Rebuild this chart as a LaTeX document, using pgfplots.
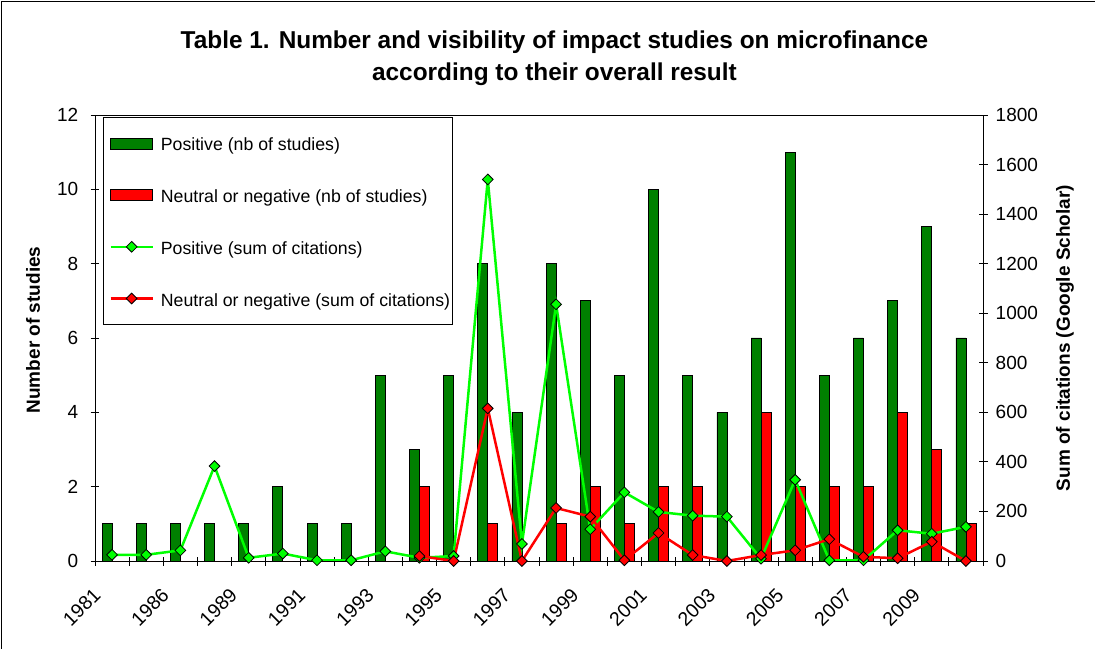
\documentclass[border=0pt]{standalone}
\usepackage{pgfplots}
\pgfplotsset{compat=1.18}
\usepackage{pgfplotstable}
\usepackage{fontspec}
\setmainfont{Liberation Sans}
\definecolor{barGreen}{RGB}{0,128,0}
\definecolor{barRed}{RGB}{255,0,0}
\definecolor{lineGreen}{RGB}{0,255,0}
\definecolor{lineRed}{RGB}{255,0,0}
\pgfplotsset{
  mylinelegend/.style={legend image code/.code={
     \path (0pt,0pt);
     \draw[mark repeat=2,mark phase=2,##1] plot coordinates {(4pt,0pt) (25pt,0pt) (46pt,0pt)};}},
  mybarlegend/.style={legend image code/.code={
     \path (0pt,0pt);
     \draw[##1] (4pt,-5.5pt) rectangle (46pt,5.5pt);}},
}
\pgfplotstableread{
x  pos neg cpos cneg
0  1   0   25   nan
1  1   0   25   nan
2  1   0   43   nan
3  1   0   383  nan
4  1   0   13   nan
5  2   0   30   nan
6  1   0   3    nan
7  1   0   3    nan
8  5   0   39   nan
9  3   2   13   20
10 5   0   20   0
11 8   1   1540 616
12 4   0   69   0
13 8   1   1036 214
14 7   2   128  179
15 5   1   277  3
16 10  2   198  113
17 5   2   183  24
18 4   0   179  0
19 6   4   9    24
20 11  2   328  43
21 5   2   3    88
22 6   2   3    17
23 7   4   124  11
24 9   3   110  78
25 6   1   138  0
}\datatable
\begin{document}
\begin{tikzpicture}
\useasboundingbox (0,0) rectangle (1095pt,648pt);
\begin{axis}[
  at={(95pt,87pt)}, anchor=south west,
  scale only axis, width=888pt, height=446pt,
  xmin=-0.5, xmax=25.5, ymin=0, ymax=12,
  ybar=0pt, bar width=10pt,
  ytick={0,2,...,12},
  xtick={0,2,...,24},
  xticklabels={1981,1986,1989,1991,1993,1995,1997,1999,2001,2003,2005,2007,2009},
  minor xtick={-0.5,0.5,...,25.5},
  major x tick style={draw=none},
  tick align=center, major tick length=9pt, minor tick length=9pt,
  xtick pos=lower, ytick pos=lower,
  tick style={black, line width=0.8pt},
  axis line style={black, line width=0.8pt},
  /pgf/number format/assume math mode=true,
  tick label style={font=\fontsize{19}{19}\selectfont},
  yticklabel style={inner sep=0pt, anchor=east, xshift=-12pt},
  xticklabel style={font=\fontsize{19.5}{19.5}\selectfont, inner sep=0pt, xshift=-20pt, yshift=-21pt, rotate=45, anchor=north east},
  ylabel={Number of studies},
  ylabel style={font=\bfseries\fontsize{19}{19}\selectfont, at={(axis description cs:-0.0698,0.518)}, anchor=center},
  title={Table 1. Number and visibility of impact studies on microfinance\\according to their overall result},
  title style={font=\bfseries\fontsize{24.4}{32}\selectfont, align=center, inner sep=0pt, at={(axis description cs:0.5174,1.1144)}, anchor=center},
]
\addplot[fill=barGreen, draw=black, line width=0.7pt] table[x=x, y=pos]{\datatable};
\addplot[fill=barRed, draw=black, line width=0.7pt] table[x=x, y=neg]{\datatable};
\end{axis}
\begin{axis}[
  at={(95pt,87pt)}, anchor=south west,
  scale only axis, width=888pt, height=446pt,
  xmin=-0.5, xmax=25.5, ymin=0, ymax=1800,
  axis x line=none, axis y line*=right,
  ytick={0,200,...,1800},
  tick align=center, major tick length=9pt,
  tick style={black, line width=0.8pt},
  axis line style={black, line width=0.8pt},
  /pgf/number format/assume math mode=true,
  /pgf/number format/1000 sep={},
  tick label style={font=\fontsize{19}{19}\selectfont},
  yticklabel style={inner sep=0pt, anchor=west, xshift=8pt},
  ylabel={Sum of citations (Google Scholar)},
  ylabel style={font=\bfseries\fontsize{19}{19}\selectfont, at={(axis description cs:1.0923,0.5)}, anchor=center},
  unbounded coords=jump,
  legend cell align=left,
  legend style={at={(axis description cs:0.009,0.9955)}, anchor=north west,
    draw=black, line width=0.8pt, font=\fontsize{17.7}{17.7}\selectfont,
    inner xsep=2pt, inner ysep=16pt, row sep=31.7pt,
    nodes={inner sep=0pt, text height=17.5pt, text depth=2.5pt},
    /tikz/every odd column/.append style={column sep=7pt}},
]
\addlegendimage{mybarlegend, fill=barGreen, draw=black, line width=0.7pt}
\addlegendentry{Positive (nb of studies)}
\addlegendimage{mybarlegend, fill=barRed, draw=black, line width=0.7pt}
\addlegendentry{Neutral or negative (nb of studies)}
\addplot[mylinelegend, lineGreen, line width=2.5pt, mark=square*, mark size=3.8pt,
  mark options={rotate=45, fill=lineGreen, draw=black, line width=0.8pt}] table[x=x, y=cpos]{\datatable};
\addlegendentry{Positive (sum of citations)}
\addplot[mylinelegend, lineRed, line width=2.5pt, mark=square*, mark size=3.8pt,
  mark options={rotate=45, fill=lineRed, draw=black, line width=0.8pt}] table[x=x, y=cneg]{\datatable};
\addlegendentry{Neutral or negative (sum of citations)}
\end{axis}
\draw[black, line width=1pt] (1.7pt,-10pt) rectangle (1110pt,646.3pt);
\end{tikzpicture}
\end{document}
